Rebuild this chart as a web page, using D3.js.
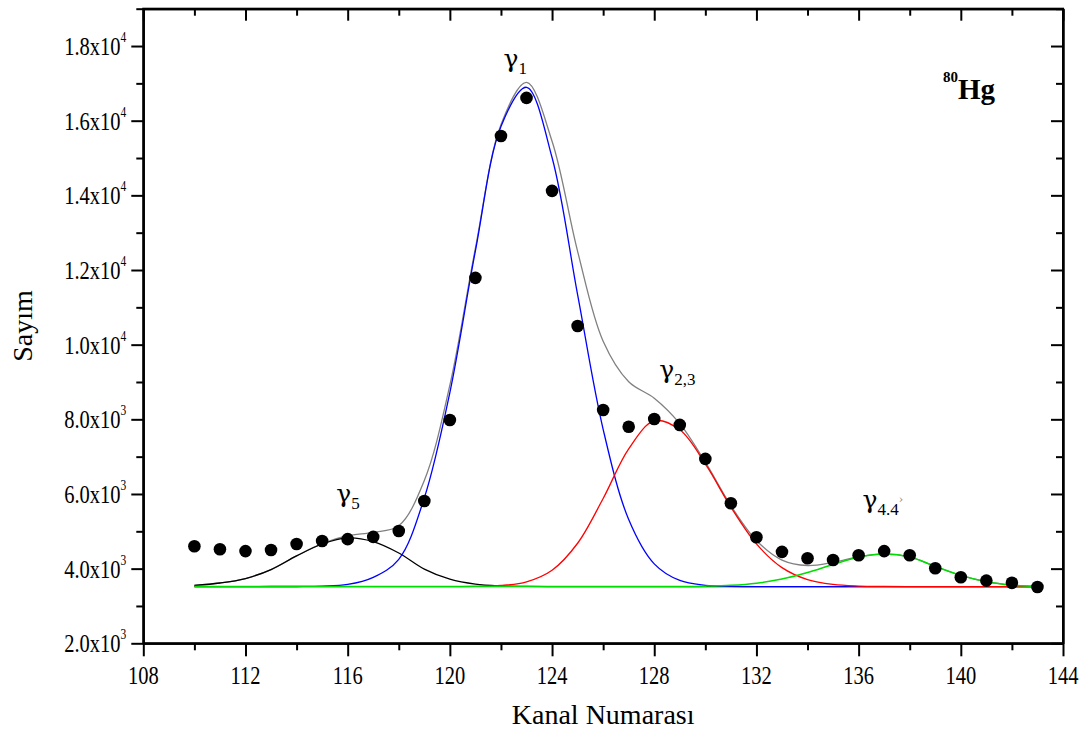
<!DOCTYPE html>
<html><head><meta charset="utf-8">
<script src="https://cdn.jsdelivr.net/npm/d3@7/dist/d3.min.js"></script>
<style>body{margin:0;background:#fff}text{font-family:"Liberation Serif","Times New Roman",serif;fill:#000}</style>
</head><body>
<svg id="c" width="1092" height="731"></svg>
<script>
// ---- data ----
const channels = [110,111,112,113,114,115,116,117,118,119,120,121,122,123,124,125,126,127,128,129,130,131,132,133,134,135,136,137,138,139,140,141,142,143];
const counts   = [4600,4520,4470,4500,4660,4740,4790,4850,5010,5810,7980,11790,15590,16610,14120,10500,8250,7800,8010,7850,6940,5750,4840,4450,4280,4230,4360,4470,4360,4010,3770,3680,3620,3510];
const fitTotal = [3550,3615,3735,3976,4342,4670,4881,4973,5150,6363,8914,12583,15890,17026,15451,12500,10091,9007,8567,7884,6851,5687,4753,4230,4084,4170,4317,4393,4314,4060,3820,3650,3560,3525];
const fitG5    = [3550,3615,3735,3975,4340,4660,4825,4725,4420,3987,3716,3583,3536,3524,3520,3520,3520,3520,3520,3520,3520,3520,3520,3520,3520,3520,3520,3520,3520,3520,3520,3520,3520,3520];
const fitG1    = [3520,3520,3520,3521,3522,3530,3576,3768,4250,5896,8718,12515,15846,16895,15013,11340,7732,5317,4129,3683,3554,3525,3520,3520,3520,3520,3520,3520,3520,3520,3520,3520,3520,3520];
const fitG23   = [3520,3520,3520,3520,3520,3520,3520,3520,3520,3520,3520,3525,3548,3647,3958,4680,5879,7210,7957,7718,6806,5648,4662,4028,3707,3577,3534,3523,3520,3520,3520,3520,3520,3520];
const fitG44   = [3520,3520,3520,3520,3520,3520,3520,3520,3520,3520,3520,3520,3520,3520,3520,3520,3520,3520,3521,3523,3531,3554,3611,3722,3897,4113,4303,4390,4314,4060,3820,3650,3560,3525];
const xMajorTicks = [108,112,116,120,124,128,132,136,140,144];
const xMinorTicks = [110,114,118,122,126,130,134,138,142];
const yMajorTicks = [2000,4000,6000,8000,10000,12000,14000,16000,18000];
const yMinorTicks = [3000,5000,7000,9000,11000,13000,15000,17000,19000];
const yTickMantissa = ["2.0x10","4.0x10","6.0x10","8.0x10","1.0x10","1.2x10","1.4x10","1.6x10","1.8x10"];
const yTickExponent = ["3","3","3","3","4","4","4","4","4"];
const peakLabels = [
  {sub:"1",   ch:122.1, v:17450},
  {sub:"5",   ch:115.55, v:5780},
  {sub:"2,3", ch:128.2, v:9100},
  {sub:"4.4", ch:136.15, v:5620, prime:true}
];

// ---- layout ----
const L = 143.3, R = 1063, T = 8.7, B = 643.3;
const svg = d3.select("#c");
const x = d3.scaleLinear().domain([108,144]).range([L,R]);
const y = d3.scaleLinear().domain([2000,19000]).range([B,T]);

// ---- curves ----
function drawCurve(arr, color, w){
  const line = d3.line().x((d,i)=>x(channels[i])).y(d=>y(d)).curve(d3.curveCatmullRom.alpha(0.5));
  svg.append("path").attr("d", line(arr)).attr("fill","none").attr("stroke",color).attr("stroke-width",w);
}
drawCurve(fitTotal, "#808080", 1.3);
drawCurve(fitG5, "#000000", 1.3);
drawCurve(fitG1, "#0000ff", 1.3);
drawCurve(fitG23, "#ff0000", 1.3);
drawCurve(fitG44, "#00dd00", 1.5);

// ---- points ----
svg.append("g").selectAll("circle").data(counts).join("circle")
  .attr("cx",(d,i)=>x(channels[i])).attr("cy",d=>y(d)).attr("r",6.3).attr("fill","#000");

// ---- axes ----
function styleAxis(g){
  g.selectAll("path.domain").attr("stroke","#000").attr("stroke-width",2);
  g.selectAll(".tick line").attr("stroke","#000").attr("stroke-width",2);
  g.selectAll(".tick text").remove();
}
svg.append("g").attr("transform",`translate(${L},0)`).call(d3.axisLeft(y).tickValues(yMajorTicks).tickSize(12).tickSizeOuter(0).tickFormat("")).call(styleAxis);
svg.append("g").attr("transform",`translate(${L},0)`).call(d3.axisLeft(y).tickValues(yMinorTicks).tickSize(7).tickSizeOuter(0).tickFormat("")).call(styleAxis);
svg.append("g").attr("transform",`translate(${R},0)`).call(d3.axisLeft(y).tickValues(yMajorTicks).tickSize(12).tickSizeOuter(0).tickFormat("")).call(styleAxis);
svg.append("g").attr("transform",`translate(${R},0)`).call(d3.axisLeft(y).tickValues(yMinorTicks).tickSize(7).tickSizeOuter(0).tickFormat("")).call(styleAxis);
svg.append("g").attr("transform",`translate(0,${B})`).call(d3.axisBottom(x).tickValues(xMajorTicks).tickSize(13).tickSizeOuter(0).tickFormat("")).call(styleAxis);
svg.append("g").attr("transform",`translate(0,${B})`).call(d3.axisBottom(x).tickValues(xMinorTicks).tickSize(7).tickSizeOuter(0).tickFormat("")).call(styleAxis);
svg.append("g").attr("transform",`translate(0,${T})`).call(d3.axisBottom(x).tickValues(xMajorTicks).tickSize(12).tickSizeOuter(0).tickFormat("")).call(styleAxis);
svg.append("g").attr("transform",`translate(0,${T})`).call(d3.axisBottom(x).tickValues(xMinorTicks).tickSize(7).tickSizeOuter(0).tickFormat("")).call(styleAxis);
svg.append("rect").attr("x",L).attr("y",T).attr("width",R-L).attr("height",B-T).attr("fill","none").attr("stroke","#000").attr("stroke-width",2);

// ---- tick labels ----
xMajorTicks.forEach(v=>{
  svg.append("g").attr("transform",`translate(${x(v)},${B+41}) scale(0.82,1)`)
    .append("text").attr("text-anchor","middle").attr("font-size",25).text(v);
});
yMajorTicks.forEach((v,i)=>{
  const t = svg.append("g").attr("transform",`translate(${L-17},${y(v)+9}) scale(0.82,1)`)
    .append("text").attr("text-anchor","end").attr("font-size",25);
  t.append("tspan").text(yTickMantissa[i]);
  t.append("tspan").attr("font-size",14).attr("dy",-13).text(yTickExponent[i]);
});

// ---- axis titles ----
svg.append("text").attr("x",(L+R)/2).attr("y",724).attr("text-anchor","middle").attr("font-size",28).text("Kanal Numarası");
svg.append("text").attr("transform",`translate(32,${(T+B)/2}) rotate(-90)`).attr("text-anchor","middle").attr("font-size",28).text("Sayım");

// ---- peak labels ----
peakLabels.forEach(p=>{
  const t = svg.append("text").attr("x",x(p.ch)).attr("y",y(p.v)).attr("font-size",25).style("font-family","'DejaVu Serif','Liberation Serif',serif");
  t.append("tspan").text("γ");
  t.append("tspan").attr("font-size",17).attr("dy",7).style("font-family","'Liberation Serif',serif").text(p.sub);
  if(p.prime) t.append("tspan").attr("font-size",11).attr("dy",-12).attr("fill","#888").text("›");
});

// ---- nucleus label ----
const hg = svg.append("text").attr("x",943).attr("y",99).attr("font-weight","bold");
hg.append("tspan").attr("font-size",15).attr("dy",-17).text("80");
hg.append("tspan").attr("font-size",29).attr("dy",17).text("Hg");
</script>
</body></html>
